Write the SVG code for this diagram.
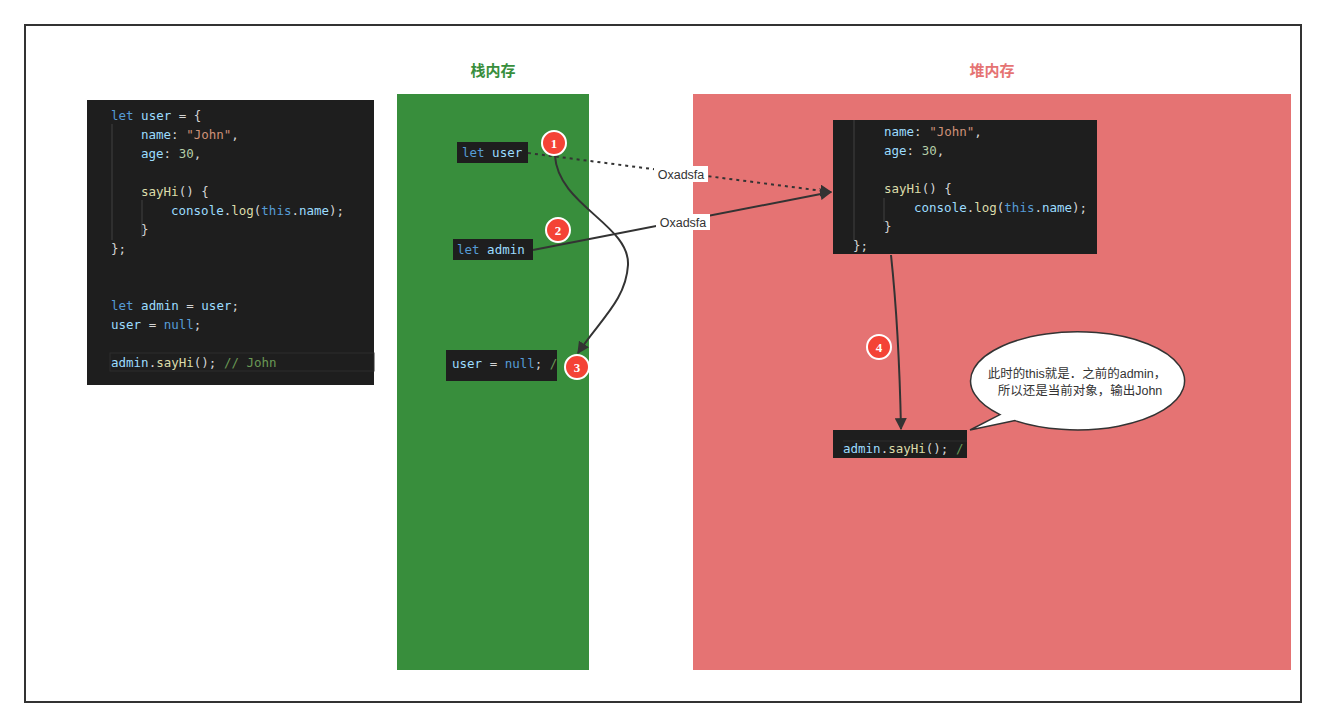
<svg xmlns="http://www.w3.org/2000/svg" width="1326" height="727" viewBox="0 0 1326 727">
<style>
.code{font-family:"DejaVu Sans Mono","Liberation Mono",monospace;font-size:12.5px;fill:#d4d4d4}
.kw{fill:#569cd6}.var{fill:#9cdcfe}.str{fill:#ce9178}.num{fill:#b5cea8}.fn{fill:#dcdcaa}.cm{fill:#6a9955}
.cbox{fill:#1e1e1e}
.guide{stroke:#404040;stroke-width:1}
.title{font-family:"Noto Sans CJK SC","Noto Sans",sans-serif;font-size:15px;font-weight:bold;text-anchor:middle}
.badge circle{fill:#f44336;stroke:#fff;stroke-width:2}
.badge text{font-family:"Liberation Serif",serif;font-size:13px;font-weight:bold;fill:#fff;text-anchor:middle}
.lbl{font-family:"Liberation Sans","Noto Sans CJK SC",sans-serif;font-size:12.5px;fill:#333}
.conn{fill:none;stroke:#333;stroke-width:2}
</style>
<defs>
<marker id="arr" viewBox="0 0 10 10" refX="9" refY="5" markerWidth="6" markerHeight="6" markerUnits="strokeWidth" orient="auto">
<path d="M0,0 L10,5 L0,10 z" fill="#333"/>
</marker>
</defs>
<rect x="0" y="0" width="1326" height="727" fill="#fff"/>
<rect x="25" y="25" width="1276" height="677" fill="#fff" stroke="#333" stroke-width="2"/>

<g id="code-left">
<rect class="cbox" x="87" y="100" width="287" height="285"/>
<line class="guide" x1="112" y1="124" x2="112" y2="240"/>
<line class="guide" x1="142" y1="200" x2="142" y2="238"/>
<rect x="110" y="353" width="264" height="18" fill="none" stroke="#2c2c2c"/>
<text class="code" x="111" y="120"><tspan class="kw">let</tspan> <tspan class="var">user</tspan> = {</text>
<text class="code" x="141" y="139"><tspan class="var">name</tspan>: <tspan class="str">"John"</tspan>,</text>
<text class="code" x="141" y="158"><tspan class="var">age</tspan>: <tspan class="num">30</tspan>,</text>
<text class="code" x="141" y="196"><tspan class="fn">sayHi</tspan>() {</text>
<text class="code" x="171" y="215"><tspan class="var">console</tspan>.<tspan class="fn">log</tspan>(<tspan class="kw">this</tspan>.<tspan class="var">name</tspan>);</text>
<text class="code" x="141" y="234">}</text>
<text class="code" x="111" y="253">};</text>
<text class="code" x="111" y="310"><tspan class="kw">let</tspan> <tspan class="var">admin</tspan> = <tspan class="var">user</tspan>;</text>
<text class="code" x="111" y="329"><tspan class="var">user</tspan> = <tspan class="kw">null</tspan>;</text>
<text class="code" x="111" y="367"><tspan class="var">admin</tspan>.<tspan class="fn">sayHi</tspan>(); <tspan class="cm">// John</tspan></text>
</g>

<g id="stack">
<text class="title" x="493" y="76" fill="#388e3c">栈内存</text>
<rect x="397" y="94" width="192" height="576" fill="#388e3c"/>
</g>
<g id="heap">
<text class="title" x="992" y="76" fill="#e57373">堆内存</text>
<rect x="693" y="94" width="598" height="576" fill="#e57373"/>
</g>

<g id="let-user">
<rect class="cbox" x="457" y="142" width="71" height="21"/>
<text class="code" x="462" y="157"><tspan class="kw">let</tspan> <tspan class="var">user</tspan></text>
</g>
<g id="let-admin">
<rect class="cbox" x="453" y="239" width="80" height="21"/>
<text class="code" x="457" y="254"><tspan class="kw">let</tspan> <tspan class="var">admin</tspan></text>
</g>
<g id="user-null">
<rect class="cbox" x="446" y="350" width="111" height="31"/>
<text class="code" x="452" y="368"><tspan class="var">user</tspan> = <tspan class="kw">null</tspan>; <tspan class="cm">/</tspan></text>
</g>

<g id="heap-object">
<rect class="cbox" x="833" y="120" width="264" height="134"/>
<line class="guide" x1="854" y1="120" x2="854" y2="240"/>
<line class="guide" x1="884" y1="198" x2="884" y2="222"/>
<text class="code" x="884" y="136"><tspan class="var">name</tspan>: <tspan class="str">"John"</tspan>,</text>
<text class="code" x="884" y="155"><tspan class="var">age</tspan>: <tspan class="num">30</tspan>,</text>
<text class="code" x="884" y="193"><tspan class="fn">sayHi</tspan>() {</text>
<text class="code" x="914" y="212"><tspan class="var">console</tspan>.<tspan class="fn">log</tspan>(<tspan class="kw">this</tspan>.<tspan class="var">name</tspan>);</text>
<text class="code" x="884" y="231">}</text>
<text class="code" x="853" y="250">};</text>
</g>

<g id="admin-sayhi">
<rect class="cbox" x="833" y="430" width="134" height="28"/>
<line x1="843" y1="441" x2="967" y2="441" stroke="#2c2c2c"/>
<text class="code" x="843" y="453"><tspan class="var">admin</tspan>.<tspan class="fn">sayHi</tspan>(); <tspan class="cm">/</tspan></text>
</g>

<g id="bubble">
<path d="M 1000 414.6 A 107 49 0 1 1 1015 420.6 L 970 430 Z" fill="#fff" stroke="#333" stroke-width="1.5"/>
<text class="lbl" x="1077" y="378" text-anchor="middle">此时的this就是．之前的admin，</text>
<text class="lbl" x="1080" y="395" text-anchor="middle">所以还是当前对象，输出John</text>
</g>

<g id="connectors">
<path class="conn" d="M 528 153 L 831 192" stroke-dasharray="3,4" marker-end="url(#arr)"/>
<path class="conn" d="M 533 250 L 831 192" marker-end="url(#arr)"/>
<path class="conn" d="M 555 156 C 558 205, 630 225, 628 265 C 626 300, 600 320, 578 353" marker-end="url(#arr)"/>
<path class="conn" d="M 891 255 Q 899 330 901 429" marker-end="url(#arr)"/>
<rect x="654" y="166" width="54" height="16" fill="#fff"/>
<text class="lbl" x="681" y="179" text-anchor="middle">Oxadsfa</text>
<rect x="656" y="214" width="54" height="16" fill="#fff"/>
<text class="lbl" x="683" y="227" text-anchor="middle">Oxadsfa</text>
</g>

<g id="badge-1" class="badge"><circle cx="554" cy="143" r="12"/><text x="554" y="148">1</text></g>
<g id="badge-2" class="badge"><circle cx="558" cy="230" r="12"/><text x="558" y="235">2</text></g>
<g id="badge-3" class="badge"><circle cx="577" cy="367" r="12"/><text x="577" y="372">3</text></g>
<g id="badge-4" class="badge"><circle cx="879" cy="347" r="12"/><text x="879" y="352">4</text></g>
</svg>
